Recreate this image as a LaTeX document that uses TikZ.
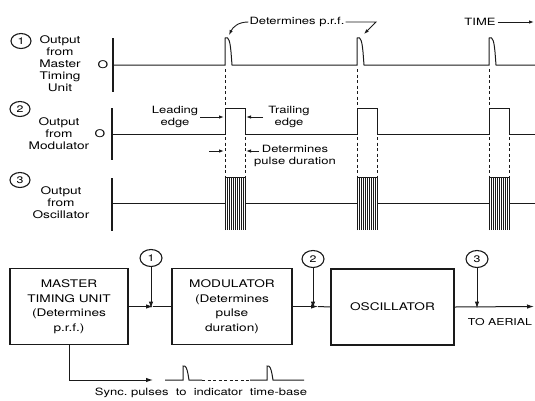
\documentclass[tikz,border=0pt]{standalone}
\usepackage{fontspec}
\setmainfont{TeX Gyre Heros}[FakeStretch=1.3]
\usetikzlibrary{arrows.meta,shapes.geometric}
\definecolor{ink}{HTML}{1A1A1A}
\tikzset{
  wave/.style={draw=ink,line width=1pt},
  axisline/.style={draw=ink,line width=1.6pt},
  hatch/.style={draw=ink,line width=0.6pt},
  guide/.style={draw=ink,line width=0.8pt,dash pattern=on 3pt off 2.5pt},
  numtag/.style={ellipse,draw=ink,line width=1.1pt,inner sep=0pt,minimum width=20pt,minimum height=15pt,font=\fontsize{9.5}{10}\selectfont},
  bigtag/.style={numtag,minimum width=22pt,minimum height=17pt},
  rowlabel/.style={align=center,inner sep=0pt,font=\fontsize{10.5}{12}\selectfont},
  note/.style={align=center,inner sep=0pt,font=\fontsize{10}{12.5}\selectfont},
  unitbox/.style={draw=ink,line width=1.3pt,minimum width=118pt,minimum height=76pt,align=center,font=\fontsize{10.5}{14.5}\selectfont},
  feed/.style={draw=ink,line width=1pt,-{Latex[length=7pt,width=4.5pt]}},
  edgearrow/.style={draw=ink,line width=0.9pt,-{Latex[length=5pt,width=3.5pt]}},
}
\begin{document}
\begin{tikzpicture}[x=1pt,y=-1pt]
  \useasboundingbox (0,0) rectangle (535,400);
  % waveforms
  \node[numtag] (n1) at (21,41) {1};
  \node[rowlabel] (lab1) at (60,64) {Output\\from\\Master\\Timing\\Unit};
  \node[rowlabel] (zero1) at (103,65) {O};
  \draw[axisline] (113,38) -- (113,92);
  \draw[wave] (113,65) \foreach \x in {225,357,489} {
      -- (\x,65) -- (\x,38) .. controls ({\x+4},36) and ({\x+5},42) .. ({\x+6},52) -- ({\x+7},65) } -- (535,65);

  \node[numtag] (n2) at (20,109) {2};
  \node[rowlabel] (lab2) at (59,134) {Output\\from\\Modulator};
  \node[rowlabel] (zero2) at (100,134) {O};
  \draw[axisline] (112,108) -- (112,160);
  \draw[wave] (112,134) \foreach \x in {225,357,489} {
      -- (\x,134) -- (\x,108) -- ({\x+20},108) -- ({\x+20},134) } -- (535,134);

  \node[numtag] (n3) at (20,180) {3};
  \node[rowlabel] (lab3) at (61,203) {Output\\from\\Oscillator};
  \draw[axisline] (112,178) -- (112,231);
  \draw[wave] (112,203) -- (225,203) (245,203) -- (357,203) (377,203) -- (489,203) (509,203) -- (535,203);
  \foreach \x in {225,357,489} {
    \draw[wave] (\x,230) -- (\x,177) -- ({\x+20},177) -- ({\x+20},230);
    \foreach \k in {2,4,...,18}
      \draw[hatch] ({\x+\k},177) -- ({\x+\k},230);
    \draw[guide] (\x,69) -- (\x,106);
    \draw[guide] (\x,137) -- (\x,176);
    \draw[guide] ({\x+20},137) -- ({\x+20},176);
  }

  % notes on the waveforms
  \node[note] (prf) at (297,22) {Determines p.r.f.};
  \coordinate (top1) at (229,35);
  \coordinate (top2) at (364,34);
  \draw[edgearrow] ([xshift=-1pt]prf.west) .. controls (238,22) and (233,27) .. (top1);
  \draw[edgearrow] ([xshift=1pt]prf.east) -- (376,22) -- (top2);
  \node[note] (timelab) at (480,22) {TIME};
  \coordinate (timeend) at (534,22);
  \draw[edgearrow] ([xshift=2pt]timelab.east) -- (timeend);

  \node[note] (lead) at (175,117) {Leading\\edge};
  \coordinate (lead1) at (224,117);
  \draw[edgearrow] ([xshift=2pt]lead.east) -- (lead1);
  \node[note] (trail) at (289,117) {Trailing\\edge};
  \coordinate (trail1) at (246,117);
  \draw[edgearrow] ([xshift=-5pt]trail.west) -- (trail1);

  \node[note] (dur) at (295,156) {Determines\\pulse duration};
  \coordinate (dura) at (209,151);
  \coordinate (durb) at (224,151);
  \coordinate (durc) at (259,151);
  \coordinate (durd) at (246,151);
  \draw[edgearrow] (dura) -- (durb);
  \draw[edgearrow] (durc) -- (durd);

  % block diagram
  \node[unitbox] (mtu) at (69,306.5) {MASTER\\TIMING UNIT\\(Determines\\p.r.f.)};
  \node[unitbox,minimum width=120pt] (mod) at (232,306.5) {MODULATOR\\(Determines\\pulse\\duration)};
  \node[unitbox,minimum width=123pt] (osc) at (392.5,307) {OSCILLATOR};

  \coordinate (j1) at (153,306.5);
  \coordinate (j2) at (318,306.5);
  \coordinate (aerial) at (534,306.5);
  \draw[feed] (mtu.east) -- (j1);
  \draw[wave] (j1) -- (mod.west);
  \draw[feed] (mod.east) -- (j2);
  \draw[wave] (j2) -- (osc.west);
  \draw[feed] (osc.east) -- (aerial);

  \node[bigtag] (t1) at (151,258) {1};
  \node[bigtag] (t2) at (313,259) {2};
  \node[bigtag] (t3) at (477,259) {3};
  \draw[feed] (t1) -- ([yshift=-2pt]t1 |- j1);
  \draw[feed] (t2) -- ([yshift=-2pt]t2 |- j2);
  \draw[feed] (t3) -- ([yshift=-2pt]t3 |- aerial);
  \node[note,font=\fontsize{9.5}{12}\selectfont] (toaer) at (500,322) {TO AERIAL};

  \coordinate (syncarr) at (153,380);
  \draw[feed] (mtu.south) |- (syncarr);
  \draw[wave] (165,380) -- (183,380) -- (183,366) .. controls (186,365) and (187,369) .. (188,374) -- (189,380) -- (202,380);
  \draw[guide] (202,380) -- (250,380);
  \draw[wave] (250,380) -- (267,380) -- (267,366) .. controls (270,365) and (271,369) .. (272,374) -- (273,380) -- (304,380);
  \node[note] (synclab) at (201,393) {Sync.\ pulses\ \ to\ \ indicator\ \ time-base};
\end{tikzpicture}
\end{document}
